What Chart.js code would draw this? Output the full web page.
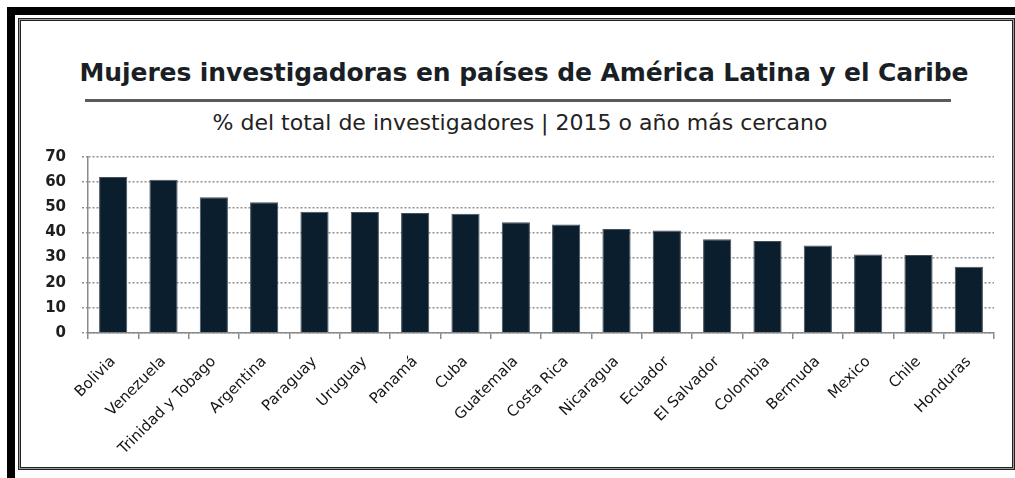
<!DOCTYPE html>
<html>
<head>
<meta charset="utf-8">
<script src="https://cdn.jsdelivr.net/npm/chart.js@4.4.0/dist/chart.umd.min.js"></script>
<style>
  html, body { margin: 0; padding: 0; background: #fff; overflow: hidden; }
  body { width: 1015px; height: 478px; position: relative; font-family: "DejaVu Sans", sans-serif; }
  .frame-outer { position: absolute; left: 7px; top: 7px; width: 1030px; height: 490px; border: 8px solid #000; box-sizing: border-box; }
  .frame-inner { position: absolute; left: 18px; top: 18px; width: 997px; height: 452px; border: 3px solid #222; box-sizing: border-box; }
  .frame-inner::after { content: ""; position: absolute; left: -2px; top: -2px; right: -2px; bottom: -2px; border: 1px solid #999; }
  .title { position: absolute; left: 0; width: 1048px; top: 58px; text-align: center; font-weight: bold; font-size: 25px; letter-spacing: -0.1px; color: #1a1f26; white-space: nowrap; }
  .rule { position: absolute; left: 85px; width: 866px; top: 99px; height: 3px; background: #5a5a5a; }
  .subtitle { position: absolute; left: 0; width: 1040px; top: 110px; text-align: center; font-size: 22px; color: #222; white-space: nowrap; }
  #wrap { position: absolute; left: 0; top: 140px; width: 1015px; height: 330px; }
</style>
</head>
<body>
<div class="frame-outer"></div>
<div class="frame-inner"></div>
<div class="title">Mujeres investigadoras en países de América Latina y el Caribe</div>
<div class="rule"></div>
<div class="subtitle">% del total de investigadores | 2015 o año más cercano</div>
<div id="wrap"><canvas id="chart"></canvas></div>
<script>
// --- datos ---
const paises = ["Bolivia", "Venezuela", "Trinidad y Tobago", "Argentina", "Paraguay", "Uruguay",
    "Panamá", "Cuba", "Guatemala", "Costa Rica", "Nicaragua", "Ecuador", "El Salvador",
    "Colombia", "Bermuda", "Mexico", "Chile", "Honduras"];
const porcentajeMujeres = [62, 61, 54, 52, 48.2, 48.1, 47.7, 47.4, 44, 43.2, 41.4, 40.8,
    37.3, 36.6, 34.8, 31.2, 31, 26.3];
const yTicks = [0, 10, 20, 30, 40, 50, 60, 70];

const ctx = document.getElementById('chart').getContext('2d');
new Chart(ctx, {
    type: 'bar',
    data: {
        labels: paises,
        datasets: [{
            data: porcentajeMujeres,
            backgroundColor: '#0b1e2e',
            borderColor: '#44525c',
            borderWidth: 1,
            barPercentage: 0.56,
            categoryPercentage: 1
        }]
    },
    options: {
        responsive: true,
        maintainAspectRatio: false,
        animation: false,
        layout: { padding: { top: 17, right: 21, left: 0, bottom: 0 } },
        plugins: { legend: { display: false }, tooltip: { enabled: false } },
        scales: {
            x: {
                afterFit: (s) => { s.height = 137; },
                grid: {
                    offset: true,
                    drawOnChartArea: false,
                    drawTicks: true,
                    tickLength: 6,
                    color: '#8a8a8a',
                    lineWidth: 1.5
                },
                border: { color: '#8a8a8a', width: 1.5 },
                ticks: {
                    minRotation: 45,
                    maxRotation: 45,
                    padding: 14,
                    color: '#151515',
                    font: { family: 'DejaVu Sans', size: 15 }
                }
            },
            y: {
                min: 0,
                max: 70,
                afterFit: (s) => {
                    s.width = 88;
                    // la separación de las etiquetas no debe empujar el área del gráfico
                    s.paddingTop = 8;
                    s.paddingBottom = 8;
                },
                afterBuildTicks: (s) => { s.ticks = yTicks.map(v => ({ value: v })); },
                grid: {
                    color: '#8f8f8f',
                    lineWidth: 1.5,
                    tickLength: 6,
                    tickBorderDash: [2, 2]
                },
                border: { color: '#8a8a8a', width: 1.5, dash: [2, 2] },
                ticks: {
                    padding: 16,
                    color: '#1e1e1e',
                    font: { family: 'DejaVu Sans', size: 15, weight: 'bold' }
                }
            }
        }
    }
});
</script>
</body>
</html>
